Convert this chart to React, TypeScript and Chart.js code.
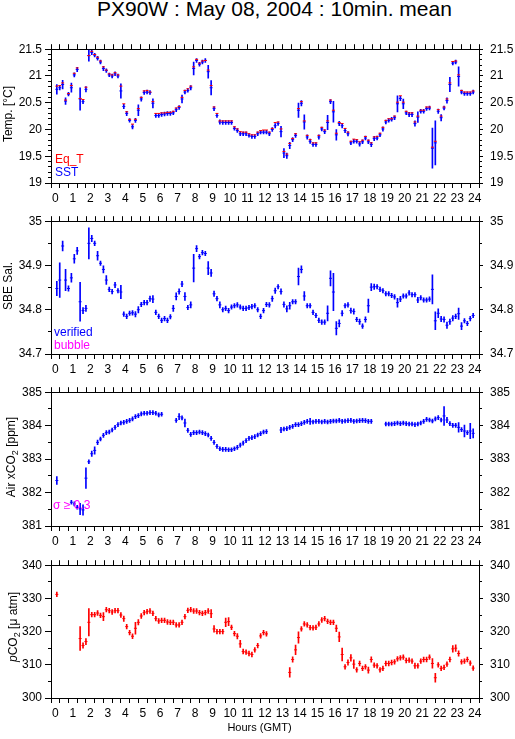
import React, { useEffect, useRef } from 'react';
import { Chart, registerables } from 'chart.js';

Chart.register(...registerables);

const FONT = "'Liberation Sans', Arial, Helvetica, sans-serif";
const RED = '#ff0000';
const BLUE = '#0000ff';
const MAGENTA = '#ff00ff';

const TITLE = 'PX90W : May 08, 2004 : 10min. mean';
const START_HOUR = 0;
const STEP_HOURS = 10 / 60;
const HOUR_RANGE = [0, 24];
const HOUR_TICK_STEP = 0.5;

// ---- Temperature ----
const SST = [
  20.75, 20.78, 20.84, 20.53, 20.66, 20.78, 21.02, 21.12, 20.57, 20.52, 20.75, 21.38,
  21.44, 21.39, 21.33, 21.26, 21.14, 21.10, 21.02, 21.00, 21.04, 21.00, 20.72, 20.43,
  20.30, 20.17, 20.05, 20.17, 20.36, 20.57, 20.69, 20.70, 20.69, 20.49, 20.26, 20.26,
  20.28, 20.29, 20.30, 20.30, 20.31, 20.37, 20.41, 20.57, 20.70, 20.73, 20.78, 21.14,
  21.29, 21.22, 21.26, 21.29, 21.08, 20.78, 20.39, 20.26, 20.14, 20.13, 20.13, 20.13,
  20.13, 20.02, 19.98, 19.92, 19.92, 19.92, 19.89, 19.87, 19.87, 19.92, 19.95, 19.95,
  19.95, 19.92, 20.00, 20.07, 20.11, 19.96, 19.56, 19.51, 19.70, 19.81, 19.89, 20.36,
  20.49, 20.14, 19.86, 19.78, 19.72, 19.72, 19.86, 20.01, 19.96, 20.13, 20.52, 20.33,
  19.90, 20.11, 20.07, 19.98, 19.92, 19.75, 19.78, 19.78, 19.73, 19.77, 19.84, 19.77,
  19.72, 19.83, 19.84, 19.90, 20.01, 20.14, 20.17, 20.19, 20.22, 20.48, 20.58, 20.48,
  20.31, 20.28, 20.28, 20.11, 20.23, 20.34, 20.34, 20.39, 20.40, 19.65, 19.75, 20.34,
  20.22, 20.40, 20.54, 20.84, 21.24, 21.26, 20.99, 20.70, 20.67, 20.67, 20.67, 20.70,
];
const SST_ERR = [
  0.09, 0.04, 0.08, 0.06, 0.035, 0.085, 0.04, 0.04, 0.21, 0.04, 0.05, 0.105,
  0.04, 0.035, 0.035, 0.035, 0.04, 0.035, 0.035, 0.035, 0.035, 0.035, 0.135, 0.04,
  0.04, 0.035, 0.04, 0.04, 0.1, 0.04, 0.035, 0.035, 0.035, 0.085, 0.035, 0.035,
  0.035, 0.035, 0.035, 0.035, 0.035, 0.035, 0.035, 0.075, 0.035, 0.035, 0.04, 0.12,
  0.035, 0.035, 0.035, 0.035, 0.12, 0.135, 0.04, 0.035, 0.04, 0.035, 0.035, 0.035,
  0.035, 0.035, 0.035, 0.035, 0.035, 0.035, 0.035, 0.035, 0.035, 0.035, 0.035, 0.035,
  0.035, 0.035, 0.035, 0.04, 0.035, 0.1, 0.085, 0.05, 0.06, 0.04, 0.04, 0.135,
  0.05, 0.135, 0.04, 0.04, 0.035, 0.035, 0.04, 0.035, 0.04, 0.135, 0.04, 0.195,
  0.1, 0.04, 0.04, 0.04, 0.04, 0.035, 0.035, 0.035, 0.04, 0.035, 0.035, 0.035,
  0.04, 0.04, 0.035, 0.035, 0.04, 0.035, 0.035, 0.035, 0.035, 0.15, 0.04, 0.09,
  0.035, 0.04, 0.04, 0.05, 0.1, 0.035, 0.035, 0.035, 0.035, 0.375, 0.41, 0.04,
  0.06, 0.035, 0.05, 0.135, 0.035, 0.035, 0.18, 0.035, 0.035, 0.035, 0.035, 0.035,
];
const EQ_T = [
  20.81, 20.82, 20.87, 20.55, 20.67, 20.82, 21.05, 21.15, 20.58, 20.56, 20.79, 21.38,
  21.46, 21.40, 21.35, 21.28, 21.17, 21.11, 21.04, 21.02, 21.06, 21.02, 20.81, 20.48,
  20.33, 20.19, 20.10, 20.19, 20.39, 20.60, 20.72, 20.73, 20.70, 20.52, 20.30, 20.30,
  20.31, 20.31, 20.32, 20.32, 20.34, 20.40, 20.43, 20.60, 20.73, 20.76, 20.81, 21.17,
  21.31, 21.24, 21.28, 21.29, 21.11, 20.82, 20.42, 20.30, 20.16, 20.16, 20.16, 20.16,
  20.16, 20.05, 20.01, 19.96, 19.95, 19.95, 19.92, 19.90, 19.90, 19.95, 19.98, 19.99,
  19.99, 19.95, 20.02, 20.13, 20.14, 20.01, 19.59, 19.54, 19.74, 19.83, 19.92, 20.39,
  20.52, 20.16, 19.89, 19.81, 19.75, 19.75, 19.89, 20.04, 19.99, 20.16, 20.55, 20.36,
  19.93, 20.13, 20.11, 20.02, 19.95, 19.78, 19.82, 19.81, 19.77, 19.80, 19.87, 19.80,
  19.75, 19.86, 19.87, 19.93, 20.04, 20.17, 20.20, 20.20, 20.25, 20.51, 20.63, 20.51,
  20.34, 20.31, 20.31, 20.14, 20.25, 20.36, 20.36, 20.42, 20.42, 19.67, 19.78, 20.37,
  20.25, 20.42, 20.57, 20.87, 21.27, 21.28, 21.02, 20.73, 20.70, 20.70, 20.70, 20.72,
];
const TEMP_TICKS = [19, 19.5, 20, 20.5, 21, 21.5];
const TEMP_MINOR = 0.1;

// ---- Salinity ----
const SAL = [
  34.848, 34.867, 34.944, 34.867, 34.848, 34.872, 34.915, 34.933, 34.818, 34.798, 34.803, 34.950,
  34.961, 34.950, 34.922, 34.905, 34.891, 34.867, 34.846, 34.841, 34.856, 34.843, 34.840, 34.790,
  34.785, 34.792, 34.793, 34.790, 34.800, 34.812, 34.816, 34.816, 34.825, 34.824, 34.794, 34.785,
  34.776, 34.780, 34.776, 34.784, 34.803, 34.830, 34.841, 34.858, 34.830, 34.805, 34.811, 34.894,
  34.938, 34.920, 34.929, 34.927, 34.894, 34.883, 34.836, 34.825, 34.811, 34.800, 34.803, 34.798,
  34.806, 34.809, 34.811, 34.806, 34.803, 34.803, 34.805, 34.807, 34.809, 34.800, 34.785, 34.798,
  34.812, 34.811, 34.825, 34.843, 34.852, 34.841, 34.812, 34.802, 34.809, 34.818, 34.818, 34.875,
  34.891, 34.831, 34.809, 34.809, 34.794, 34.787, 34.776, 34.772, 34.772, 34.792, 34.871, 34.840,
  34.758, 34.769, 34.792, 34.809, 34.811, 34.798, 34.796, 34.778, 34.773, 34.763, 34.778, 34.809,
  34.851, 34.852, 34.852, 34.846, 34.843, 34.836, 34.836, 34.832, 34.829, 34.816, 34.824, 34.831,
  34.831, 34.838, 34.834, 34.834, 34.822, 34.827, 34.822, 34.822, 34.824, 34.846, 34.775, 34.792,
  34.779, 34.778, 34.765, 34.773, 34.781, 34.785, 34.791, 34.763, 34.775, 34.769, 34.780, 34.787,
];
const SAL_ERR = [
  0.016, 0.039, 0.011, 0.024, 0.006, 0.01, 0.01, 0.008, 0.044, 0.007, 0.007, 0.035,
  0.007, 0.005, 0.01, 0.005, 0.008, 0.01, 0.005, 0.005, 0.006, 0.005, 0.015, 0.005,
  0.005, 0.005, 0.005, 0.006, 0.007, 0.005, 0.005, 0.005, 0.006, 0.008, 0.005, 0.005,
  0.005, 0.005, 0.005, 0.005, 0.007, 0.008, 0.006, 0.006, 0.009, 0.005, 0.007, 0.031,
  0.007, 0.005, 0.005, 0.005, 0.015, 0.008, 0.006, 0.005, 0.007, 0.005, 0.005, 0.005,
  0.005, 0.005, 0.005, 0.005, 0.005, 0.005, 0.005, 0.005, 0.005, 0.005, 0.005, 0.005,
  0.005, 0.005, 0.006, 0.006, 0.005, 0.006, 0.006, 0.007, 0.008, 0.005, 0.005, 0.019,
  0.008, 0.01, 0.005, 0.005, 0.005, 0.005, 0.005, 0.005, 0.005, 0.017, 0.017, 0.042,
  0.015, 0.008, 0.006, 0.005, 0.005, 0.006, 0.006, 0.005, 0.006, 0.005, 0.006, 0.015,
  0.008, 0.006, 0.005, 0.005, 0.005, 0.005, 0.005, 0.005, 0.005, 0.01, 0.006, 0.005,
  0.005, 0.005, 0.005, 0.005, 0.006, 0.005, 0.005, 0.005, 0.005, 0.033, 0.02, 0.01,
  0.006, 0.006, 0.007, 0.006, 0.006, 0.005, 0.013, 0.008, 0.005, 0.005, 0.005, 0.005,
];
const SAL_TICKS = [34.7, 34.8, 34.9, 35];
const SAL_MINOR = 0.05;

// ---- Air xCO2 ----
const XCO2 = [
  382.36, null, null, null, null, 381.71, 381.66, 381.56, 381.51, 381.48, 382.43, 382.92,
  383.16, 383.26, 383.50, 383.60, 383.71, 383.79, 383.81, 383.87, 383.95, 384.03, 384.08, 384.10,
  384.13, 384.16, 384.20, 384.27, 384.30, 384.35, 384.37, 384.37, 384.39, 384.39, 384.37, 384.32,
  384.34, null, null, null, null, 384.16, 384.27, 384.23, 384.08, 383.86, 383.74, 383.79,
  383.79, 383.81, 383.79, 383.76, 383.72, 383.62, 383.50, 383.38, 383.31, 383.29, 383.29, 383.28,
  383.28, 383.31, 383.35, 383.42, 383.48, 383.55, 383.62, 383.64, 383.67, 383.72, 383.76, 383.81,
  383.82, null, null, null, null, 383.87, 383.90, 383.91, 383.95, 383.98, 384.03, 384.03,
  384.06, 384.10, 384.13, 384.13, 384.11, 384.13, 384.13, 384.11, 384.13, 384.11, 384.13, 384.14,
  384.14, 384.16, 384.13, 384.14, 384.15, 384.16, 384.13, 384.14, 384.15, 384.16, 384.15, 384.13,
  384.13, null, null, null, null, 384.05, 384.05, 384.05, 384.06, 384.08, 384.06, 384.08,
  384.06, 384.05, 384.05, 384.03, 384.05, 384.08, 384.13, 384.19, 384.17, 384.14, 384.20, 384.24,
  384.17, 384.29, 384.17, 384.06, 384.01, 384.01, 383.95, 383.88, 383.84, 383.79, 383.84, 383.77,
];
const XCO2_ERR = [
  0.12, null, null, null, null, 0.06, 0.06, 0.06, 0.17, 0.155, 0.31, 0.06,
  0.08, 0.11, 0.07, 0.06, 0.06, 0.06, 0.06, 0.06, 0.06, 0.06, 0.06, 0.06,
  0.06, 0.06, 0.06, 0.06, 0.06, 0.06, 0.06, 0.06, 0.06, 0.06, 0.06, 0.06,
  0.06, null, null, null, null, 0.06, 0.09, 0.06, 0.12, 0.06, 0.06, 0.06,
  0.06, 0.06, 0.06, 0.06, 0.06, 0.06, 0.06, 0.06, 0.06, 0.06, 0.06, 0.06,
  0.06, 0.06, 0.06, 0.06, 0.06, 0.06, 0.06, 0.06, 0.06, 0.06, 0.06, 0.06,
  0.06, null, null, null, null, 0.08, 0.06, 0.06, 0.06, 0.06, 0.06, 0.06,
  0.06, 0.06, 0.06, 0.09, 0.06, 0.06, 0.06, 0.06, 0.06, 0.06, 0.06, 0.06,
  0.06, 0.06, 0.06, 0.06, 0.06, 0.06, 0.06, 0.06, 0.06, 0.06, 0.06, 0.06,
  0.06, null, null, null, null, 0.06, 0.06, 0.06, 0.06, 0.06, 0.06, 0.06,
  0.06, 0.06, 0.06, 0.06, 0.06, 0.06, 0.06, 0.06, 0.06, 0.06, 0.06, 0.06,
  0.06, 0.28, 0.08, 0.06, 0.06, 0.06, 0.145, 0.06, 0.18, 0.06, 0.23, 0.135,
];
const XCO2_TICKS = [381, 382, 383, 384, 385];
const XCO2_MINOR = 0.5;

// ---- pCO2 ----
const PCO2 = [
  331.2, null, null, null, null, null, null, null, 317.9, 315.8, 317.0, 322.8,
  325.1, 325.1, 325.6, 324.9, 324.5, 326.6, 326.3, 325.9, 326.3, 326.3, 325.0, 323.9,
  321.5, 319.7, 318.6, 321.0, 322.8, 324.7, 325.7, 326.0, 326.2, 325.5, 323.9, 323.2,
  323.4, 323.4, 322.9, 322.8, 322.8, 322.0, 322.0, 322.8, 324.5, 326.4, 326.6, 326.2,
  326.2, 325.7, 325.5, 325.7, 326.2, 325.4, 320.8, 320.0, 320.0, 320.0, 322.8, 323.0,
  321.3, 319.4, 318.6, 316.3, 314.0, 313.8, 313.4, 313.1, 314.5, 315.8, 318.7, 319.7,
  319.3, null, null, null, null, null, null, null, 307.7, 311.6, 314.5, 318.2,
  320.8, 322.3, 322.0, 321.2, 321.1, 321.3, 322.3, 323.5, 323.9, 323.1, 322.8, 322.8,
  321.0, 318.4, 313.1, 309.4, 310.7, 312.1, 310.2, 308.5, 310.4, 308.9, 309.4, 308.4,
  311.6, 309.9, 309.7, 308.5, 308.9, 310.4, 310.4, 310.7, 310.9, 311.8, 312.1, 312.3,
  311.3, 311.4, 311.1, 309.7, 309.7, 311.1, 311.6, 311.6, 312.3, 310.4, 306.1, 310.0,
  308.9, 309.2, 310.2, 311.6, 314.8, 315.0, 313.4, 310.9, 311.1, 311.6, 310.5, 309.0,
];
const PCO2_ERR = [
  0.7, null, null, null, null, null, null, null, 3.6, 0.8, 0.9, 4.1,
  0.7, 0.7, 0.7, 0.7, 1.2, 0.7, 0.7, 0.7, 0.7, 0.7, 0.7, 0.8,
  0.7, 0.7, 0.7, 1.8, 0.8, 0.7, 0.7, 0.7, 0.7, 0.7, 0.7, 0.7,
  0.7, 0.7, 0.7, 0.7, 0.7, 0.7, 0.7, 0.7, 0.7, 0.7, 0.7, 0.7,
  0.7, 0.7, 0.7, 0.7, 0.7, 1.2, 1.0, 0.7, 0.7, 0.7, 1.3, 1.2,
  0.7, 0.7, 0.8, 1.1, 0.7, 0.7, 0.7, 0.7, 0.7, 0.7, 0.7, 0.7,
  0.7, null, null, null, null, null, null, null, 1.45, 0.8, 1.45, 1.7,
  0.7, 0.7, 0.7, 0.7, 0.7, 0.7, 0.7, 0.7, 0.7, 0.7, 0.7, 0.7,
  1.0, 1.45, 1.9, 0.7, 0.8, 1.0, 1.3, 0.7, 0.7, 0.7, 0.7, 0.9,
  0.8, 0.7, 0.7, 0.7, 0.7, 0.7, 0.7, 0.7, 0.7, 0.7, 0.7, 0.7,
  0.7, 0.7, 0.7, 0.8, 0.7, 0.7, 0.7, 0.7, 0.7, 1.45, 1.3, 0.7,
  0.7, 0.7, 0.7, 0.7, 1.0, 1.0, 0.8, 0.7, 0.7, 0.7, 0.7, 0.7,
];
const PCO2_TICKS = [300, 310, 320, 330, 340];
const PCO2_MINOR = 5;

// ---- layout (page pixels) ----
const W = 515;
const PLOT_LEFT = 51;
const PLOT_RIGHT = 479;
const TOP_PAD = 10;

type Series = { vals: (number | null)[]; errs: (number | null)[] | null; color: string; dashOrder: number };
type Panel = { key: string; top: number; bottom: number; below: number; major: number[]; minor: number; series: Series[] };

const PANELS: Panel[] = [
  { key: 'temp', top: 45, bottom: 183, below: 24, major: TEMP_TICKS, minor: TEMP_MINOR,
    series: [
      { vals: SST, errs: SST_ERR, color: BLUE, dashOrder: 1 },
      { vals: EQ_T, errs: null, color: RED, dashOrder: 0 },
    ] },
  { key: 'sal', top: 217, bottom: 354, below: 24, major: SAL_TICKS, minor: SAL_MINOR,
    series: [{ vals: SAL, errs: SAL_ERR, color: BLUE, dashOrder: 0 }] },
  { key: 'xco2', top: 388, bottom: 526, below: 24, major: XCO2_TICKS, minor: XCO2_MINOR,
    series: [{ vals: XCO2, errs: XCO2_ERR, color: BLUE, dashOrder: 0 }] },
  { key: 'pco2', top: 561, bottom: 698, below: 41, major: PCO2_TICKS, minor: PCO2_MINOR,
    series: [{ vals: PCO2, errs: PCO2_ERR, color: RED, dashOrder: 0 }] },
];

const timeOf = (i: number) => START_HOUR + (i + 0.5) * STEP_HOURS;
const round4 = (v: number) => Math.round(v * 10000) / 10000;

function stepTicks(min: number, max: number, step: number) {
  const n = Math.round((max - min) / step);
  const out: number[] = [];
  for (let k = 0; k <= n; k++) out.push(round4(min + k * step));
  return out;
}

function buildConfig(p: Panel): any {
  const min = p.major[0];
  const max = p.major[p.major.length - 1];
  const yTicks = stepTicks(min, max, p.minor);
  const xTicks = stepTicks(HOUR_RANGE[0], HOUR_RANGE[1], HOUR_TICK_STEP);
  const isMajor = (v: number) => p.major.some((m) => Math.abs(m - v) < p.minor / 100);
  const tickVal = (c: any) => (c && c.tick ? c.tick.value : min);

  const datasets: any[] = [];
  p.series.forEach((s) => {
    const pts: any[] = [];
    const bars: any[] = [];
    s.vals.forEach((v, i) => {
      if (v == null) return;
      pts.push({ x: timeOf(i), y: v });
      const e = s.errs ? s.errs[i] : null;
      if (e != null) bars.push({ x: timeOf(i), y: [v - e, v + e] });
    });
    datasets.push({
      type: 'scatter', data: pts, order: s.dashOrder,
      pointStyle: 'line', pointRadius: 1.5, pointBorderWidth: 1,
      pointBorderColor: s.color, pointBackgroundColor: s.color,
      borderColor: s.color, backgroundColor: s.color, showLine: false,
      xAxisID: 'x', yAxisID: 'y',
    });
    if (bars.length) {
      datasets.push({
        type: 'bar', data: bars, order: 5,
        backgroundColor: s.color, borderWidth: 0, barThickness: 1, grouped: false,
        xAxisID: 'x', yAxisID: 'y',
      });
    }
  });

  const border = { display: true, color: '#000', width: 1 };
  const xBase = {
    type: 'linear', min: HOUR_RANGE[0], max: HOUR_RANGE[1],
    afterBuildTicks: (s: any) => { s.ticks = xTicks.map((v) => ({ value: v })); },
    border,
  };
  const yBase = {
    type: 'linear', min, max,
    afterBuildTicks: (s: any) => { s.ticks = yTicks.map((v) => ({ value: v })); },
    border,
  };
  const yLabel = (v: any) => (isMajor(Number(v)) ? String(Math.round(Number(v) * 1000) / 1000) : '');

  return {
    type: 'scatter',
    data: { datasets },
    options: {
      animation: false,
      responsive: false,
      maintainAspectRatio: false,
      devicePixelRatio: 1,
      events: [],
      layout: { padding: 0 },
      plugins: { legend: { display: false }, tooltip: { enabled: false }, title: { display: false } },
      scales: {
        x: {
          ...xBase, position: 'bottom',
          afterFit: (s: any) => { s.height = p.below; },
          ticks: {
            autoSkip: false, maxRotation: 0, minRotation: 0, padding: 3, color: '#000',
            font: { family: FONT, size: 12 },
            callback: (v: any) => (Number.isInteger(Number(v)) ? String(v) : ''),
          },
          grid: { drawOnChartArea: false, drawTicks: true, tickLength: 5, tickColor: '#000', tickWidth: 1 },
        },
        x2: {
          ...xBase, position: 'top',
          afterFit: (s: any) => { s.height = TOP_PAD; },
          ticks: { display: false, autoSkip: false },
          grid: { drawOnChartArea: false, drawTicks: true, tickLength: 5, tickColor: '#000', tickWidth: 1 },
        },
        y: {
          ...yBase, position: 'left',
          afterFit: (s: any) => { s.width = PLOT_LEFT; },
          ticks: { autoSkip: false, padding: 3, color: '#000', font: { family: FONT, size: 12 }, callback: yLabel },
          grid: {
            drawOnChartArea: false, drawTicks: true, tickLength: 6, tickColor: '#000', tickWidth: 1,
            tickBorderDash: (c: any) => (isMajor(tickVal(c)) ? [] : [3, 3]),
            tickBorderDashOffset: (c: any) => (isMajor(tickVal(c)) ? 0 : 3),
          },
        },
        y2: {
          ...yBase, position: 'right',
          afterFit: (s: any) => { s.width = W - PLOT_RIGHT; },
          ticks: { autoSkip: false, padding: 7, color: '#000', font: { family: FONT, size: 12 }, callback: yLabel },
          grid: {
            drawOnChartArea: false, drawTicks: true, tickLength: 4, tickColor: '#000', tickWidth: 1,
            tickBorderDash: (c: any) => (isMajor(tickVal(c)) ? [] : [2, 10]),
          },
        },
      },
    },
  };
}

function PanelChart({ p }: { p: Panel }) {
  const ref = useRef<HTMLCanvasElement>(null);
  const height = p.bottom - p.top + TOP_PAD + p.below;
  useEffect(() => {
    if (!ref.current) return;
    const chart = new Chart(ref.current, buildConfig(p));
    return () => chart.destroy();
  }, []);
  return (
    <canvas
      ref={ref}
      width={W}
      height={height}
      style={{ position: 'absolute', left: 0, top: p.top - TOP_PAD, width: W, height, display: 'block' }}
    />
  );
}

const abs = (left: number, top: number, color: string, size = 12): React.CSSProperties => ({
  position: 'absolute', left, top, color, fontSize: size, lineHeight: '14px', whiteSpace: 'nowrap', fontFamily: FONT,
});

function VTitle({ cx, cy, children }: { cx: number; cy: number; children: React.ReactNode }) {
  return (
    <div
      style={{
        position: 'absolute', left: cx, top: cy, transform: 'translate(-50%, -50%) rotate(-90deg)',
        fontSize: 12, lineHeight: '14px', whiteSpace: 'nowrap', color: '#000', fontFamily: FONT,
      }}
    >
      {children}
    </div>
  );
}

const sub: React.CSSProperties = { fontSize: 9, position: 'relative', top: 3 };

export default function App() {
  return (
    <div style={{ position: 'absolute', left: 0, top: 0, width: W, height: 739, background: '#fff', overflow: 'hidden', fontFamily: FONT }}>
      {PANELS.map((p) => (
        <PanelChart key={p.key} p={p} />
      ))}
      <div style={{ position: 'absolute', left: 97, top: -3, fontSize: 21, lineHeight: '24px', whiteSpace: 'nowrap', color: '#000' }}>
        {TITLE}
      </div>
      <VTitle cx={7.5} cy={114}>Temp. [°C]</VTitle>
      <VTitle cx={7.5} cy={285.5}>SBE Sal.</VTitle>
      <VTitle cx={10.5} cy={457}>
        Air xCO<span style={sub}>2</span> [ppm]
      </VTitle>
      <VTitle cx={13} cy={627}>
        <i>p</i>CO<span style={sub}>2</span> [μ atm]
      </VTitle>
      <div style={abs(55, 152, RED)}>Eq_T</div>
      <div style={abs(55, 165, BLUE)}>SST</div>
      <div style={abs(54, 325, BLUE)}>verified</div>
      <div style={abs(54, 338, MAGENTA)}>bubble</div>
      <div style={abs(53, 498, MAGENTA)}>σ ≥ 0.3</div>
      <div style={{ ...abs(0, 720, '#000', 11), width: 519, textAlign: 'center' }}>Hours (GMT)</div>
    </div>
  );
}
